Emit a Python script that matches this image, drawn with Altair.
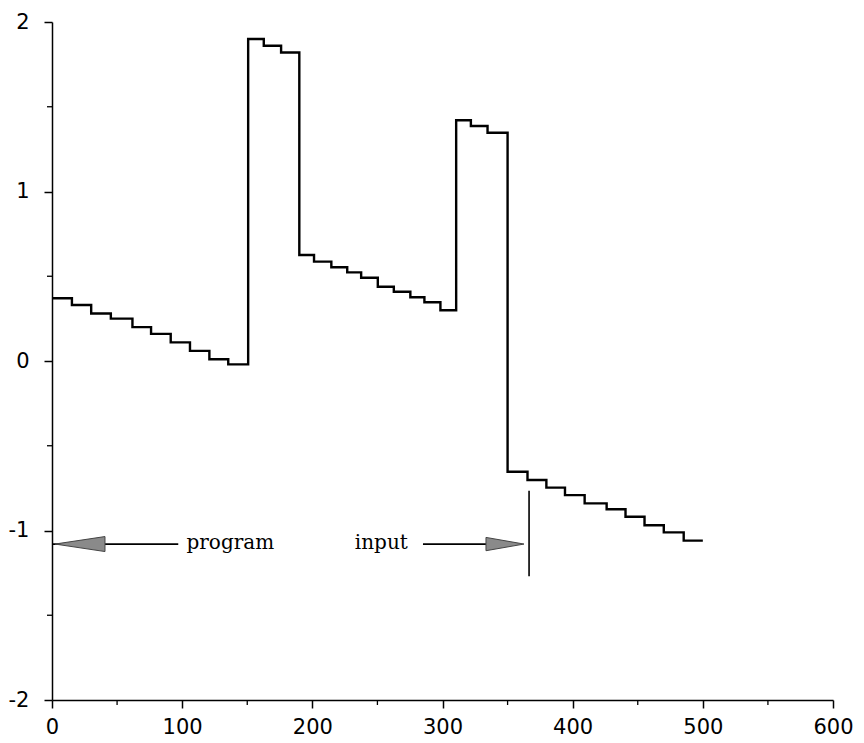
import altair as alt
import pandas as pd

# staircase signal: step start x and level
step_x = [0, 15.3, 30.1, 45.2, 61.8, 76.1, 91.2, 106, 120.9, 135.4,
          150.7, 162.7, 176,
          190, 201.3, 214.6, 226.8, 237.5, 250.3, 262.6, 275.3, 286.1, 298.4,
          310.5, 321.8, 334.6,
          350, 365.3, 379.8, 394.1, 409.2, 426.1, 440.6, 455.2, 470, 485.3, 500]
step_y = [0.37, 0.33, 0.28, 0.25, 0.20, 0.16, 0.11, 0.06, 0.01, -0.02,
          1.90, 1.86, 1.82,
          0.625, 0.586, 0.553, 0.523, 0.491, 0.438, 0.409, 0.376, 0.347, 0.299,
          1.42, 1.386, 1.347,
          -0.653, -0.702, -0.747, -0.791, -0.84, -0.875, -0.919, -0.969, -1.011, -1.06, -1.06]

x_ticks = [0, 100, 200, 300, 400, 500, 600]
y_ticks = [-2, -1, 0, 1, 2]
x_minor = [50, 150, 250, 350, 450, 550]
y_minor = [-1.5, -0.5, 0.5, 1.5]

# annotation
arrow_y = -1.08
arrow_lines_x = [0, 285]
arrow_lines_x2 = [97, 340]
head_left_x = [21.5]
head_right_x = [348]
marker_x = [366.5]
marker_y = [-0.765]
marker_y2 = [-1.27]
label_words = ["program", "input"]
label_x = [137, 253]

W, H = 781, 678

xs = alt.Scale(domain=[0, 600], nice=False, zero=False)
ys = alt.Scale(domain=[-2, 2], nice=False, zero=False)

df = pd.DataFrame({"x": step_x, "y": step_y})

line = alt.Chart(df).mark_line(interpolate="step-after", color="black", strokeWidth=2.4).encode(
    x=alt.X("x:Q", scale=xs, axis=alt.Axis(values=x_ticks, title=None, grid=False, tickSize=8,
                                          labelFont="DejaVu Sans", labelFontSize=21, labelColor="black",
                                          labelPadding=8, domainColor="black", tickColor="black",
                                          domainWidth=1.5, tickWidth=1.5, labelFlush=False)),
    y=alt.Y("y:Q", scale=ys, axis=alt.Axis(values=y_ticks, title=None, grid=False, tickSize=8,
                                          labelFont="DejaVu Sans", labelFontSize=21, labelColor="black",
                                          labelPadding=15, domainColor="black", tickColor="black",
                                          domainWidth=1.5, tickWidth=1.5, labelFlush=False,
                                          labelExpr="toString(datum.value)")),
)

xminor = alt.Chart(pd.DataFrame({"x": x_minor})).mark_rule(color="black", strokeWidth=1.3).encode(
    x=alt.X("x:Q", scale=xs), y=alt.value(H), y2=alt.value(H + 5))
yminor = alt.Chart(pd.DataFrame({"y": y_minor})).mark_rule(color="black", strokeWidth=1.3).encode(
    y=alt.Y("y:Q", scale=ys), x=alt.value(-5), x2=alt.value(0))

arr = alt.Chart(pd.DataFrame({"x": arrow_lines_x, "x2": arrow_lines_x2, "y": [arrow_y] * 2})).mark_rule(
    color="black", strokeWidth=1.8).encode(
    x=alt.X("x:Q", scale=xs), x2="x2:Q", y=alt.Y("y:Q", scale=ys))

hl = alt.Chart(pd.DataFrame({"x": head_left_x, "y": [arrow_y]})).mark_point(
    shape="M -1 0 L 1 -0.3 L 1 0.3 Z", size=2500, filled=True, fill="#8a8a8a", stroke="#444",
    strokeWidth=1, opacity=1).encode(x=alt.X("x:Q", scale=xs), y=alt.Y("y:Q", scale=ys))
hr = alt.Chart(pd.DataFrame({"x": head_right_x, "y": [arrow_y]})).mark_point(
    shape="M 1 0 L -1 -0.35 L -1 0.35 Z", size=1444, filled=True, fill="#8a8a8a", stroke="#444",
    strokeWidth=1, opacity=1).encode(x=alt.X("x:Q", scale=xs), y=alt.Y("y:Q", scale=ys))

marker = alt.Chart(pd.DataFrame({"x": marker_x, "y": marker_y, "y2": marker_y2})).mark_rule(
    color="black", strokeWidth=1.6).encode(x=alt.X("x:Q", scale=xs), y=alt.Y("y:Q", scale=ys), y2="y2:Q")

txt = alt.Chart(pd.DataFrame({"x": label_x, "t": label_words, "y": [arrow_y] * 2})).mark_text(
    font="DejaVu Serif", fontSize=20, color="black", baseline="middle", align="center", dy=-1).encode(
    x=alt.X("x:Q", scale=xs), y=alt.Y("y:Q", scale=ys), text="t:N")

chart = alt.layer(line, xminor, yminor, arr, hl, hr, marker, txt).properties(
    width=W, height=H, autosize=alt.AutoSizeParams(type="none"),
    padding={"left": 52, "top": 22, "right": 31, "bottom": 43},
    background="white",
).configure_view(stroke=None)

chart.save("out.html", embed_options={"renderer": "svg", "actions": False})
